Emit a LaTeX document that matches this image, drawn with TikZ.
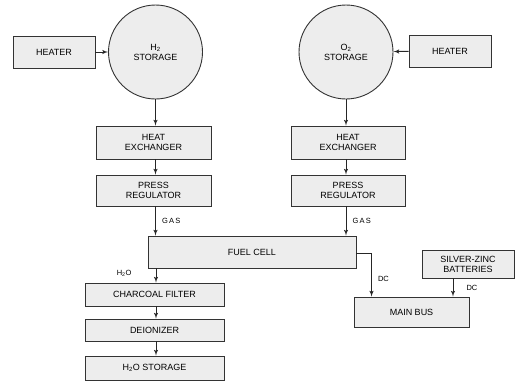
\documentclass[tikz,border=0pt]{standalone}
\usepackage{fontspec}
\setmainfont{Liberation Sans}
\usepackage{tikz}
\usetikzlibrary{positioning, shapes.geometric, arrows, calc}

\tikzset{
  unit/.style={draw=black!80, fill=black!7, line width=0.9pt, rectangle, align=center, inner sep=1pt, font=\fontsize{9}{10}\selectfont},
  tank/.style={draw=black!80, fill=black!7, line width=0.9pt, circle, minimum size=94pt, align=center, inner sep=0pt, font=\fontsize{9}{10}\selectfont},
  flow/.style={->, line width=1pt, draw=black!85},
  tag/.style={font=\fontsize{7.5}{8}\selectfont, inner sep=0pt}
}

\begin{document}
\begin{tikzpicture}[x=1pt, y=-1pt, >=latex']
            % Frame of the page
            \useasboundingbox (0,0) rectangle (516,381);

            % Hydrogen side
            \node[unit, minimum width=82pt, minimum height=32pt] (heatH) at (54,52) {HEATER};
            \node[tank] (storH) at (155.5,52) {H\textsubscript{2}\\STORAGE};
            \node[unit, minimum width=115pt, minimum height=33pt] (hxH) at (153.5,142.5) {HEAT\\EXCHANGER};
            \node[unit, minimum width=115pt, minimum height=31pt] (regH) at (153.5,190.5) {PRESS\\REGULATOR};

            % Oxygen side
            \node[tank] (storO) at (346,52) {O\textsubscript{2}\\STORAGE};
            \node[unit, minimum width=82pt, minimum height=32pt] (heatO) at (450,51) {HEATER};
            \node[unit, minimum width=114pt, minimum height=33pt] (hxO) at (348,142.5) {HEAT\\EXCHANGER};
            \node[unit, minimum width=114pt, minimum height=31pt] (regO) at (348,190.5) {PRESS\\REGULATOR};

            % Cell and water line
            \node[unit, minimum width=208pt, minimum height=32pt] (cell) at (252,252) {FUEL CELL};
            \node[unit, minimum width=139pt, minimum height=23pt] (filt) at (154.5,294.5) {CHARCOAL FILTER};
            \node[unit, minimum width=139pt, minimum height=22pt] (deion) at (154.5,330) {DEIONIZER};
            \node[unit, minimum width=139pt, minimum height=24pt] (water) at (154.5,368) {H\textsubscript{2}O STORAGE};

            % Power
            \node[unit, minimum width=115pt, minimum height=30pt] (bus) at (411.5,312) {MAIN BUS};
            \node[unit, minimum width=92pt, minimum height=28pt] (batt) at (468,264) {SILVER-ZINC\\BATTERIES};

            % Draw the flows
            \draw[flow] (heatH) -- (storH);
            \draw[flow] (heatO) -- (storO);
            \draw[flow] (storH.south) -- (storH.south |- hxH.north);
            \draw[flow] (storO.south) -- (storO.south |- hxO.north);
            \draw[flow] (storH.south |- hxH.south) -- (storH.south |- regH.north);
            \draw[flow] (storO.south |- hxO.south) -- (storO.south |- regO.north);
            \draw[flow] (storH.south |- regH.south) -- (storH.south |- cell.north) node[tag, midway, right=6pt] {G\,A\,S};
            \draw[flow] (storO.south |- regO.south) -- (storO.south |- cell.north) node[tag, midway, right=6pt] {G\,A\,S};
            \draw[flow] ([xshift=1.5pt]filt.north |- cell.south) -- ([xshift=1.5pt]filt.north) node[tag, midway, left=24pt, yshift=2pt] {H\textsubscript{2}O};
            \draw[flow] ([xshift=1.5pt]filt.south) -- ([xshift=1.5pt]deion.north);
            \draw[flow] ([xshift=1.5pt]deion.south) -- ([xshift=1.5pt]water.north);

            % Draw the current
            \draw[flow] ([yshift=-1pt]cell.east) -| ([xshift=18pt]bus.north west) node[tag, pos=0.8, right=6pt] {DC};
            \draw[flow] ([xshift=-15pt]batt.south) -- ([xshift=-15pt]batt.south |- bus.north) node[tag, midway, right=13pt] {DC};

        \end{tikzpicture}
\end{document}
